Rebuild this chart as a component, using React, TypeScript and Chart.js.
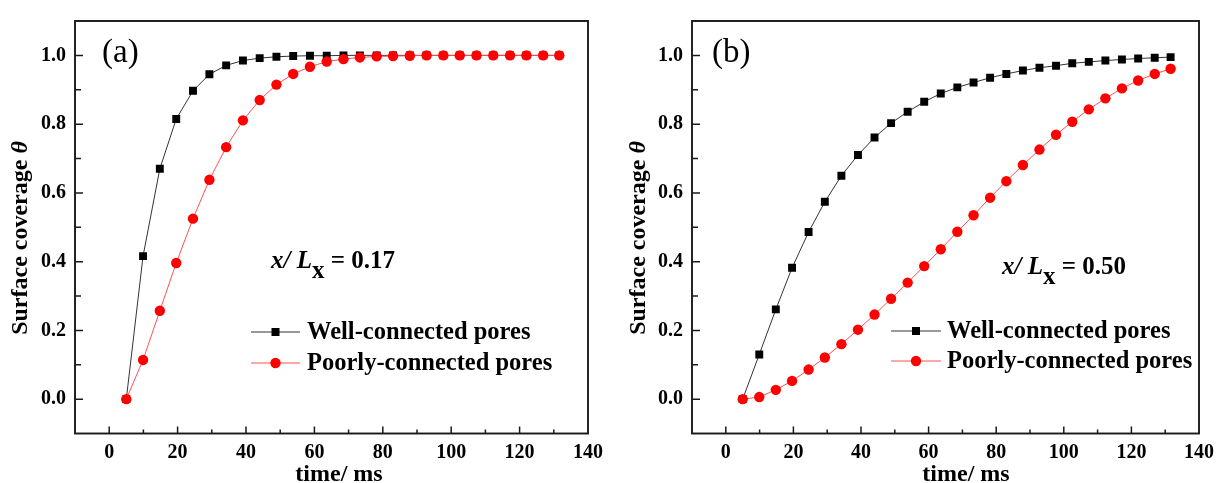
import React, { useEffect, useRef } from "react";
import { Chart, registerables } from "chart.js";

Chart.register(...registerables);

const FONT = "'Liberation Serif', 'Times New Roman', serif";

// ---- data ----
const TIME_MS = [5.0, 9.9, 14.8, 19.6, 24.5, 29.3, 34.2, 39.1, 44.0, 48.9, 53.8, 58.7, 63.6, 68.5, 73.3, 78.2, 83.0, 87.9, 92.8, 97.7, 102.5, 107.4, 112.3, 117.2, 122.0, 126.9, 131.6];

const WELL_A = [0, 0.416, 0.670, 0.815, 0.897, 0.945, 0.971, 0.985, 0.992, 0.996, 0.998, 0.999, 0.999, 1.0, 1.0, 1.0, 1.0, 1.0, 1.0, 1.0, 1.0, 1.0, 1.0, 1.0, 1.0, 1.0, 1.0];
const POOR_A = [0, 0.114, 0.257, 0.396, 0.525, 0.638, 0.733, 0.811, 0.870, 0.915, 0.946, 0.967, 0.982, 0.989, 0.994, 0.997, 0.998, 0.999, 1.0, 1.0, 1.0, 1.0, 1.0, 1.0, 1.0, 1.0, 1.0];

const WELL_B = [0, 0.130, 0.261, 0.382, 0.486, 0.574, 0.650, 0.710, 0.761, 0.803, 0.836, 0.865, 0.889, 0.907, 0.921, 0.935, 0.946, 0.956, 0.964, 0.970, 0.977, 0.981, 0.985, 0.988, 0.991, 0.993, 0.995];
const POOR_B = [0, 0.006, 0.027, 0.053, 0.086, 0.121, 0.160, 0.202, 0.246, 0.292, 0.339, 0.387, 0.436, 0.487, 0.535, 0.586, 0.634, 0.681, 0.726, 0.769, 0.807, 0.843, 0.875, 0.904, 0.927, 0.946, 0.961];

const X_TICK_VALUES = [0, 20, 40, 60, 80, 100, 120, 140];
const X_TICK_LABELS = ["0", "20", "40", "60", "80", "100", "120", "140"];
const Y_TICK_KEYS = [0, 2, 4, 6, 8, 10];
const Y_TICK_LABELS = ["0.0", "0.2", "0.4", "0.6", "0.8", "1.0"];

const SERIES_NAMES = ["Well-connected pores", "Poorly-connected pores"];
const PANEL_LABELS = ["(a)", "(b)"];
const POSITION_VALUES = ["0.17", "0.50"];
const X_TITLE = "time/ ms";
const Y_TITLE = "Surface coverage ";
const Y_TITLE_SYMBOL = "\u03b8";

// ---- layout (canvas-local pixels) ----
type Layout = {
  canvasLeft: number;
  width: number;
  yAxisWidth: number;
  padRight: number;
  panelLabelX: number;
  annX: number;
  annY: number;
  legLineX0: number;
  legLineX1: number;
  legTextX: number;
  legY0: number;
  legY1: number;
  yTitleX: number;
  yTitleY: number;
  xTitleX: number;
};

const LAYOUTS: Layout[] = [
  { canvasLeft: 0, width: 610, yAxisWidth: 75, padRight: 17, panelLabelX: 102, annX: 271, annY: 268, legLineX0: 251, legLineX1: 300, legTextX: 307, legY0: 332, legY1: 363, yTitleX: 21, yTitleY: 238, xTitleX: 339 },
  { canvasLeft: 610, width: 611, yAxisWidth: 82, padRight: 16, panelLabelX: 102, annX: 392, annY: 274, legLineX0: 281, legLineX1: 331, legTextX: 337, legY0: 331, legY1: 361, yTitleX: 29, yTitleY: 238, xTitleX: 356 },
];

const HEIGHT = 483;
const INK = "#1a1a1a";

const decorPlugin = {
  id: "decor",
  afterDraw(chart: any, _args: any, opts: any) {
    const { ctx, chartArea: ca, scales } = chart;
    const L: Layout = opts.layout;
    const xs = scales.x;
    const ys = scales.y;
    ctx.save();
    // frame
    ctx.strokeStyle = INK;
    ctx.lineWidth = 1.9;
    ctx.strokeRect(ca.left, ca.top, ca.right - ca.left, ca.bottom - ca.top);
    // inward ticks
    ctx.lineWidth = 1.5;
    ctx.beginPath();
    xs.ticks.forEach((t: any) => {
      const v = t.value;
      if (v <= xs.min + 1e-6 || v >= xs.max - 1e-6) return;
      const px = xs.getPixelForValue(v);
      const major = Math.round(v) % 20 === 0;
      const len = major ? 7 : 4;
      ctx.moveTo(px, ca.bottom);
      ctx.lineTo(px, ca.bottom - len);
    });
    ys.ticks.forEach((t: any) => {
      const v = t.value;
      if (v <= ys.min + 1e-6 || v >= ys.max - 1e-6) return;
      const py = ys.getPixelForValue(v);
      const major = Math.round(v * 10) % 2 === 0;
      const len = major ? 8 : 6;
      ctx.moveTo(ca.left, py);
      ctx.lineTo(ca.left + len, py);
    });
    ctx.stroke();

    ctx.fillStyle = "#000";
    // panel label
    ctx.font = `normal 33px ${FONT}`;
    ctx.textBaseline = "middle";
    ctx.textAlign = "left";
    ctx.fillText(opts.panelLabel, L.panelLabelX, 53);

    // annotation x/ L_x = value
    let cx = L.annX;
    ctx.textBaseline = "alphabetic";
    const seg = (text: string, font: string, y: number) => {
      ctx.font = font;
      ctx.fillText(text, cx, y);
      cx += ctx.measureText(text).width;
    };
    const bi = `italic bold 25px ${FONT}`;
    const b = `bold 25px ${FONT}`;
    seg("x", bi, L.annY);
    seg("/ ", bi, L.annY);
    seg("L", bi, L.annY);
    seg("x", b, L.annY + 10);
    seg(" = " + opts.value, b, L.annY);

    // legend
    const rows = [
      { y: L.legY0, color: "#000", line: "#333", shape: "rect" },
      { y: L.legY1, color: "#ff0000", line: "#ff5050", shape: "circle" },
    ];
    rows.forEach((r, i) => {
      ctx.strokeStyle = r.line;
      ctx.lineWidth = 1;
      ctx.beginPath();
      ctx.moveTo(L.legLineX0, r.y);
      ctx.lineTo(L.legLineX1, r.y);
      ctx.stroke();
      const mx = (L.legLineX0 + L.legLineX1) / 2;
      ctx.fillStyle = r.color;
      if (r.shape === "rect") {
        ctx.fillRect(mx - 4, r.y - 4, 8, 8);
      } else {
        ctx.beginPath();
        ctx.arc(mx, r.y, 5.2, 0, Math.PI * 2);
        ctx.fill();
      }
      ctx.fillStyle = "#000";
      ctx.font = `bold 24.5px ${FONT}`;
      ctx.textBaseline = "middle";
      ctx.fillText(SERIES_NAMES[i], L.legTextX, r.y + 1);
    });

    // y title
    ctx.save();
    ctx.translate(L.yTitleX, L.yTitleY);
    ctx.rotate(-Math.PI / 2);
    ctx.textBaseline = "middle";
    ctx.font = `bold 24px ${FONT}`;
    const w1 = ctx.measureText(Y_TITLE).width;
    ctx.font = `italic bold 24px ${FONT}`;
    const w2 = ctx.measureText(Y_TITLE_SYMBOL).width;
    const start = -(w1 + w2) / 2;
    ctx.font = `bold 24px ${FONT}`;
    ctx.fillText(Y_TITLE, start, 0);
    ctx.font = `italic bold 24px ${FONT}`;
    ctx.fillText(Y_TITLE_SYMBOL, start + w1, 0);
    ctx.restore();

    // x title
    ctx.font = `bold 24px ${FONT}`;
    ctx.textAlign = "center";
    ctx.textBaseline = "alphabetic";
    ctx.fillText(X_TITLE, L.xTitleX, 481);
    ctx.restore();
  },
};

function Panel({ index, well, poor }: { index: number; well: number[]; poor: number[] }) {
  const ref = useRef<HTMLCanvasElement | null>(null);
  const L = LAYOUTS[index];
  useEffect(() => {
    if (!ref.current) return;
    const chart = new Chart(ref.current, {
      type: "line",
      data: {
        datasets: [
          {
            label: SERIES_NAMES[1],
            data: TIME_MS.map((t, i) => ({ x: t, y: poor[i] })),
            borderColor: "#ff5050",
            borderWidth: 1,
            backgroundColor: "#ff0000",
            pointBackgroundColor: "#ff0000",
            pointBorderColor: "#ff0000",
            pointBorderWidth: 0,
            pointStyle: "circle",
            pointRadius: 5.2,
            tension: 0,
            order: 0,
          },
          {
            label: SERIES_NAMES[0],
            data: TIME_MS.map((t, i) => ({ x: t, y: well[i] })),
            borderColor: "#333",
            borderWidth: 1,
            backgroundColor: "#000",
            pointBackgroundColor: "#000",
            pointBorderColor: "#000",
            pointBorderWidth: 0,
            pointStyle: "rect",
            pointRadius: 5.6,
            tension: 0,
            order: 1,
          },
        ],
      },
      options: {
        responsive: false,
        animation: false,
        devicePixelRatio: 1,
        layout: { padding: { top: 11.5, right: L.padRight, bottom: 0, left: 0 } },
        plugins: {
          legend: { display: false },
          tooltip: { enabled: false },
          decor: { layout: L, panelLabel: PANEL_LABELS[index], value: POSITION_VALUES[index] },
        } as any,
        scales: {
          x: {
            type: "linear",
            min: -10,
            max: 140,
            grid: { display: false, drawTicks: false, tickLength: 0 },
            border: { display: false },
            ticks: {
              stepSize: 10,
              autoSkip: false,
              maxRotation: 0,
              padding: 7,
              color: "#000",
              font: { family: FONT, size: 20, weight: "bold" },
              callback: (v: any) => {
                const k = X_TICK_VALUES.indexOf(Math.round(Number(v)));
                return k >= 0 && Math.abs(Number(v) - X_TICK_VALUES[k]) < 1e-6 ? X_TICK_LABELS[k] : "";
              },
            },
            afterFit: (s: any) => {
              s.height = 49.5;
            },
          },
          y: {
            type: "linear",
            min: -0.1,
            max: 1.1,
            grid: { display: false, drawTicks: false, tickLength: 0 },
            border: { display: false },
            ticks: {
              stepSize: 0.1,
              autoSkip: false,
              padding: 9,
              color: "#000",
              font: { family: FONT, size: 20, weight: "bold" },
              callback: (v: any) => {
                const key = Math.round(Number(v) * 10);
                const k = Y_TICK_KEYS.indexOf(key);
                return k >= 0 ? Y_TICK_LABELS[k] : "";
              },
            },
            afterFit: (s: any) => {
              s.width = L.yAxisWidth;
            },
          },
        },
      } as any,
      plugins: [decorPlugin],
    });
    return () => chart.destroy();
  }, []);
  return (
    <canvas
      ref={ref}
      width={L.width}
      height={HEIGHT}
      style={{ position: "absolute", left: L.canvasLeft, top: 0, width: L.width, height: HEIGHT, display: "block" }}
    />
  );
}

export default function App() {
  return (
    <div style={{ position: "absolute", left: 0, top: 0, width: 1221, height: HEIGHT, background: "#fff", overflow: "hidden" }}>
      <Panel index={0} well={WELL_A} poor={POOR_A} />
      <Panel index={1} well={WELL_B} poor={POOR_B} />
    </div>
  );
}
